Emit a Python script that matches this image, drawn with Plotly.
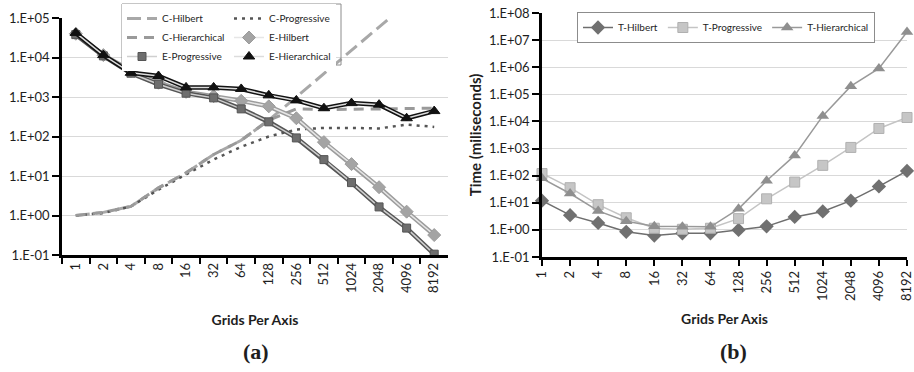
import plotly.graph_objects as go

# ---- data ---------------------------------------------------------------
grids = ["1", "2", "4", "8", "16", "32", "64", "128", "256", "512",
         "1024", "2048", "4096", "8192"]

# panel (a)
c_hilbert = [1.0, 1.2, 1.7, 5, 12, 35, 80, 260, 1000, 4000, 16000, 65000, 250000, 900000]
c_progressive = [1.0, 1.15, 1.7, 4.5, 11, 26, 55, 100, 150, 165, 165, 160, 200, 175]
c_hierarchical = [1.0, 1.2, 1.7, 5, 12, 35, 80, 260, 500, 480, 490, 500, 520, 520]
e_hilbert = [40000, 11500, 4600, 2300, 1350, 1050, 800, 580, 290, 72, 20, 5.2, 1.25, 0.32]
e_progressive = [38000, 11000, 4000, 2100, 1250, 950, 500, 235, 92, 26, 6.8, 1.65, 0.48, 0.105]
e_hierarchical = [42000, 11500, 4100, 3400, 1750, 1750, 1600, 1100, 820, 520, 700, 640, 290, 440]

# panel (b)
t_hilbert = [12, 3.5, 1.8, 0.85, 0.62, 0.75, 0.75, 1.0, 1.35, 3.0, 4.8, 12, 40, 150]
t_progressive = [120, 36, 8.5, 2.8, 1.15, 1.05, 1.15, 2.6, 14, 58, 240, 1100, 5500, 14000]
t_hierarchical = [80, 22, 5, 2.1, 1.35, 1.3, 1.3, 6, 65, 560, 16000, 200000, 900000, 2e7]

ticks_a = [1e-1, 1, 1e1, 1e2, 1e3, 1e4, 1e5]
ticktext_a = ["1.E-01", "1.E+00", "1.E+01", "1.E+02", "1.E+03", "1.E+04", "1.E+05"]
ticks_b = [1e-1, 1, 1e1, 1e2, 1e3, 1e4, 1e5, 1e6, 1e7, 1e8]
ticktext_b = ["1.E-01", "1.E+00", "1.E+01", "1.E+02", "1.E+03", "1.E+04",
              "1.E+05", "1.E+06", "1.E+07", "1.E+08"]

W, H = 914, 372
FONT = "Lato, 'Open Sans', sans-serif"
TXT = "#1e1e1e"


def px(x):
    return x / W


def py(y):
    return 1 - y / H


fig = go.Figure()

# ---- panel (a): C curves ----------------------------------------------------
fig.add_trace(go.Scatter(x=grids, y=c_hilbert, name="C-Hilbert", mode="lines",
                         line=dict(color="#a8a8a8", width=3, dash="14px,6px"),
                         xaxis="x", yaxis="y", legend="legend"))
fig.add_trace(go.Scatter(x=grids, y=c_progressive, name="C-Progressive", mode="lines",
                         line=dict(color="#555555", width=2.5, dash="3px,5px"),
                         xaxis="x", yaxis="y", legend="legend2"))
fig.add_trace(go.Scatter(x=grids, y=c_hierarchical, name="C-Hierarchical", mode="lines",
                         line=dict(color="#9a9a9a", width=3, dash="10px,7px"),
                         xaxis="x", yaxis="y", legend="legend"))


# ---- panel (a): E curves, drawn as an outlined (double) line -------------------
def e_series(values, name, outline, inner, symbol, mcolor, msize, legend):
    fig.add_trace(go.Scatter(x=grids, y=values, mode="lines", showlegend=False,
                             legendgroup=name, hoverinfo="skip",
                             line=dict(color=outline, width=4.5),
                             xaxis="x", yaxis="y"))
    fig.add_trace(go.Scatter(x=grids, y=values, name=name, mode="lines+markers",
                             legendgroup=name,
                             line=dict(color=inner, width=1.5),
                             marker=dict(symbol=symbol, size=msize, color=mcolor,
                                         line=dict(color=outline, width=1)),
                             xaxis="x", yaxis="y", legend=legend))


e_series(e_hilbert, "E-Hilbert", "#9c9c9c", "#e6e6e6", "diamond", "#a4a4a4", 10, "legend2")
e_series(e_progressive, "E-Progressive", "#555555", "#cfcfcf", "square", "#6e6e6e", 8, "legend")
e_series(e_hierarchical, "E-Hierarchical", "#111111", "#dcdcdc", "triangle-up", "#111111", 10, "legend2")

# ---- panel (b) ------------------------------------------------------------
fig.add_trace(go.Scatter(x=grids, y=t_hilbert, name="T-Hilbert", mode="lines+markers",
                         line=dict(color="#6e6e6e", width=1.5),
                         marker=dict(symbol="diamond", size=11, color="#707070"),
                         cliponaxis=False, xaxis="x2", yaxis="y2", legend="legend3"))
fig.add_trace(go.Scatter(x=grids, y=t_progressive, name="T-Progressive", mode="lines+markers",
                         line=dict(color="#c4c4c4", width=1.5),
                         marker=dict(symbol="square", size=10, color="#c6c6c6",
                                     line=dict(color="#b0b0b0", width=1)),
                         cliponaxis=False, xaxis="x2", yaxis="y2", legend="legend3"))
fig.add_trace(go.Scatter(x=grids, y=t_hierarchical, name="T-Hierarchical", mode="lines+markers",
                         line=dict(color="#999999", width=1.5),
                         marker=dict(symbol="triangle-up", size=11, color="#8f8f8f"),
                         cliponaxis=False, xaxis="x2", yaxis="y2", legend="legend3"))

# ---- axes -------------------------------------------------------------------
tickfont = dict(family=FONT, size=13, color=TXT)
titlefont = dict(family=FONT, size=14, color=TXT, weight="bold")

common_x = dict(type="category", showline=True, linecolor="black", linewidth=2.5,
                ticks="outside", ticklen=6, tickwidth=1.5, tickcolor="black",
                showgrid=False, tickangle=-90, tickfont=tickfont, automargin=False)
common_y = dict(type="log", showline=True, linecolor="black", linewidth=2.5,
                ticks="outside", ticklen=7, tickwidth=1.5, tickcolor="black",
                showgrid=True, gridcolor="#d9d9d9", gridwidth=1,
                tickfont=tickfont, automargin=False)

fig.update_layout(
    xaxis=dict(common_x, domain=[px(62), px(448)], range=[-0.5, 13.5],
               tickson="boundaries", anchor="y",
               title=dict(text="Grids Per Axis", font=titlefont, standoff=24)),
    yaxis=dict(common_y, domain=[py(255), py(18)], range=[-1, 5],
               tickvals=ticks_a, ticktext=ticktext_a, anchor="x"),
    xaxis2=dict(common_x, domain=[px(542), px(907)], range=[0, 13], anchor="y2",
                title=dict(text="Grids Per Axis", font=titlefont, standoff=15)),
    yaxis2=dict(common_y, domain=[py(257), py(13)], range=[-1, 8],
                tickvals=ticks_b, ticktext=ticktext_b, anchor="x2",
                title=dict(text="Time (miliseconds)",
                           font=dict(titlefont, size=15), standoff=4)),
)

# ---- legends ----------------------------------------------------------------
legfont = dict(family=FONT, size=10, color=TXT)
fig.update_layout(
    legend=dict(x=px(122), y=py(4), xanchor="left", yanchor="top",
                bgcolor="white", font=legfont, tracegroupgap=0,
                traceorder="normal", itemwidth=30),
    legend2=dict(x=px(229), y=py(4), xanchor="left", yanchor="top",
                 bgcolor="white", font=legfont, tracegroupgap=0,
                 traceorder="normal", itemwidth=30),
    legend3=dict(x=px(577), y=py(12), xanchor="left", yanchor="top",
                 orientation="h", bgcolor="white", font=legfont,
                 bordercolor="#8c8c8c", borderwidth=1, itemwidth=30),
)

fig.add_shape(type="rect", xref="paper", yref="paper",
              x0=px(122), x1=px(341), y0=py(65), y1=py(4),
              line=dict(color="#8c8c8c", width=1), fillcolor="rgba(0,0,0,0)",
              layer="above")

# ---- panel captions -----------------------------------------------------------
for label, xc in (("(a)", 256), ("(b)", 733)):
    fig.add_annotation(text=label, x=px(xc), y=py(351), xref="paper", yref="paper",
                       showarrow=False, xanchor="center", yanchor="middle",
                       font=dict(family="'Liberation Serif', serif", size=22,
                                 color=TXT, weight="bold"))

fig.update_layout(width=W, height=H, margin=dict(l=0, r=0, t=0, b=0),
                  paper_bgcolor="white", plot_bgcolor="white",
                  font=dict(family=FONT, color=TXT))

fig.write_html("out.html")
